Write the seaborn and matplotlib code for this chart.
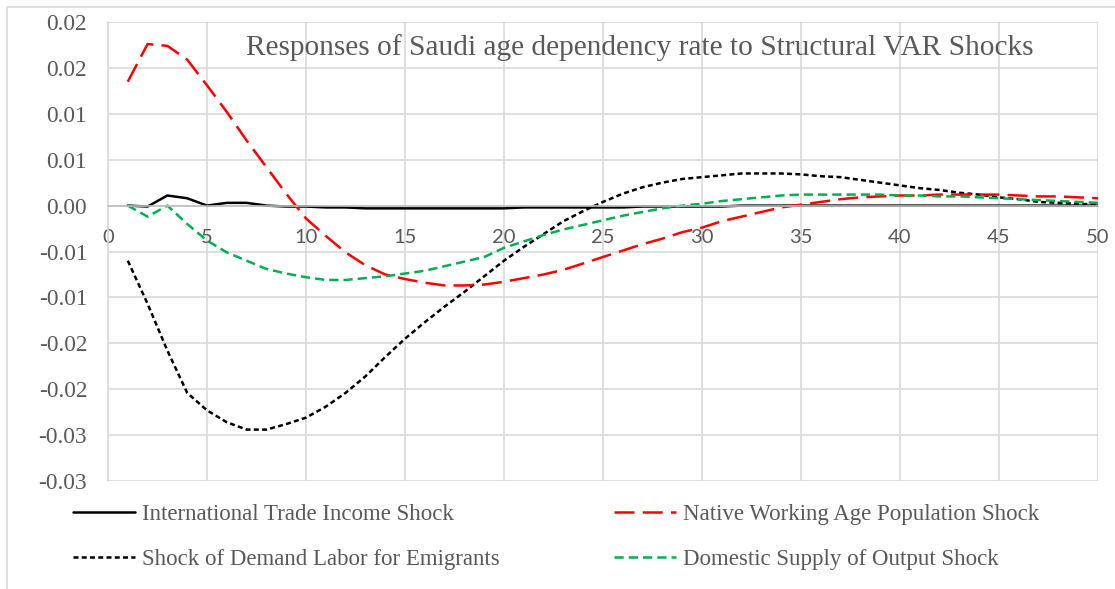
import matplotlib
matplotlib.use('Agg')
from matplotlib import pyplot as plt
from matplotlib.patches import Rectangle
import seaborn as sns
import pandas as pd
import numpy as np

periods = list(range(1, 51))

trade_income = [0.0000, -0.0001, 0.0011, 0.0008, 0.0000, 0.0003, 0.0003, 0.0000, -0.0001, -0.0001,
                -0.0002, -0.0002, -0.0003, -0.0003, -0.0003, -0.0003, -0.0003, -0.0003, -0.0003, -0.0003,
                -0.0002, -0.0002, -0.0002, -0.0002, -0.0002, -0.0002, -0.0001, -0.0001, -0.0001, -0.0001,
                -0.0001, 0.0000, 0.0000, 0.0000, 0.0000, 0.0000, 0.0000, 0.0000, 0.0000, 0.0000,
                0.0000, 0.0000, 0.0000, 0.0000, 0.0000, 0.0000, 0.0000, 0.0000, 0.0000, 0.0000]

native_working = [0.0135, 0.0176, 0.0174, 0.0159, 0.0131, 0.0102, 0.0071, 0.0042, 0.0013, -0.0014,
                  -0.0033, -0.0051, -0.0065, -0.0075, -0.0080, -0.0084, -0.0087, -0.0087, -0.0086, -0.0083,
                  -0.0079, -0.0075, -0.0070, -0.0063, -0.0056, -0.0049, -0.0042, -0.0036, -0.0029, -0.0024,
                  -0.0017, -0.0012, -0.0007, -0.0002, 0.0001, 0.0004, 0.0007, 0.0009, 0.0010, 0.0011,
                  0.0011, 0.0012, 0.0012, 0.0012, 0.0012, 0.0011, 0.0010, 0.0010, 0.0009, 0.0008]

demand_labor = [-0.0060, -0.0107, -0.0158, -0.0204, -0.0223, -0.0236, -0.0244, -0.0244, -0.0238, -0.0231,
                -0.0219, -0.0204, -0.0186, -0.0165, -0.0145, -0.0127, -0.0110, -0.0094, -0.0077, -0.0060,
                -0.0045, -0.0031, -0.0017, -0.0006, 0.0004, 0.0013, 0.0020, 0.0025, 0.0029, 0.0031,
                0.0033, 0.0035, 0.0035, 0.0035, 0.0034, 0.0032, 0.0031, 0.0028, 0.0025, 0.0022,
                0.0019, 0.0017, 0.0014, 0.0012, 0.0009, 0.0007, 0.0004, 0.0003, 0.0002, 0.0001]

domestic_supply = [0.0000, -0.0012, 0.0000, -0.0020, -0.0038, -0.0051, -0.0060, -0.0069, -0.0074, -0.0078,
                   -0.0081, -0.0081, -0.0079, -0.0077, -0.0074, -0.0071, -0.0066, -0.0061, -0.0056, -0.0046,
                   -0.0039, -0.0032, -0.0026, -0.0021, -0.0016, -0.0011, -0.0007, -0.0003, 0.0000, 0.0002,
                   0.0005, 0.0007, 0.0009, 0.0011, 0.0012, 0.0012, 0.0012, 0.0012, 0.0012, 0.0011,
                   0.0011, 0.0010, 0.0010, 0.0009, 0.0008, 0.0007, 0.0006, 0.0005, 0.0004, 0.0003]

y_ticks = [0.02, 0.015, 0.01, 0.005, 0.0, -0.005, -0.01, -0.015, -0.02, -0.025, -0.03]
y_labels = ['0.02', '0.02', '0.01', '0.01', '0.00', '-0.01', '-0.01', '-0.02', '-0.02', '-0.03', '-0.03']
x_ticks = list(range(0, 55, 5))

title = 'Responses of Saudi age dependency rate to Structural VAR Shocks'

# name, values, colour, dash pattern (in linewidths)
series = [
    ('International Trade Income Shock', trade_income, 'black', None),
    ('Shock of Demand Labor for Emigrants', demand_labor, 'black', (2.0, 1.3)),
    ('Native Working Age Population Shock', native_working, '#ff0000', (8.0, 3.3)),
    ('Domestic Supply of Output Shock', domestic_supply, '#00b050', (3.7, 2.0)),
]

sns.set_style('white')
plt.rcParams['font.family'] = ['Liberation Serif', 'DejaVu Serif']

fig = plt.figure(figsize=(11.15, 5.89), dpi=100)
ax = fig.add_axes([108 / 1115, 1 - 481 / 589, 990 / 1115, 459 / 589])

for name, vals, col, dash in series:
    df = pd.DataFrame({'period': periods, 'value': vals})
    sns.lineplot(data=df, x='period', y='value', ax=ax, color=col, label=name,
                 linewidth=1.8, legend=False)
    line = ax.get_lines()[-1]
    if dash is not None:
        line.set_dashes(dash)
        line.set_dash_capstyle('butt')

ax.set_xlim(0, 50)
ax.set_ylim(-0.03, 0.02)
ax.set_xticks(x_ticks)
ax.set_yticks(y_ticks)
ax.set_yticklabels(y_labels)
ax.set_xlabel('')
ax.set_ylabel('')

ax.grid(True, color='#d9d9d9', linewidth=1.2)
ax.set_axisbelow(True)
for s in ['top', 'right']:
    ax.spines[s].set_visible(False)
ax.spines['left'].set_color('#d9d9d9')
ax.spines['left'].set_linewidth(1.2)
ax.spines['bottom'].set_position(('data', 0))
ax.spines['bottom'].set_color('#bfbfbf')
ax.spines['bottom'].set_linewidth(1.2)

ax.tick_params(axis='y', length=0, pad=15, labelsize=16.8, labelcolor='#595959')
ax.tick_params(axis='x', length=0, pad=17, labelsize=14.5, labelcolor='#595959')
for t in ax.get_xticklabels():
    t.set_fontfamily(['Lato', 'DejaVu Sans'])

ax.text(640 / 1115, 1 - 48 / 589, title, transform=fig.transFigure, ha='center', va='center',
        fontsize=21.2, color='#595959')

handles = ax.get_lines()[:4]
leg = fig.legend(handles, [s[0] for s in series], ncol=2, frameon=False,
                 loc='upper left', bbox_to_anchor=(73 / 1115, 1 - 504 / 589),
                 fontsize=16.5, handlelength=2.7, handletextpad=0.3, columnspacing=5.0,
                 labelspacing=1.05, borderpad=0, borderaxespad=0)
for t in leg.get_texts():
    t.set_color('#595959')

fig.patches.append(Rectangle((7 / 1115, -0.1), 1.2, 1.1 - 7 / 589, transform=fig.transFigure,
                             fill=False, edgecolor='#d9d9d9', linewidth=1.2))

fig.savefig('out.png', dpi=100, facecolor='white')
